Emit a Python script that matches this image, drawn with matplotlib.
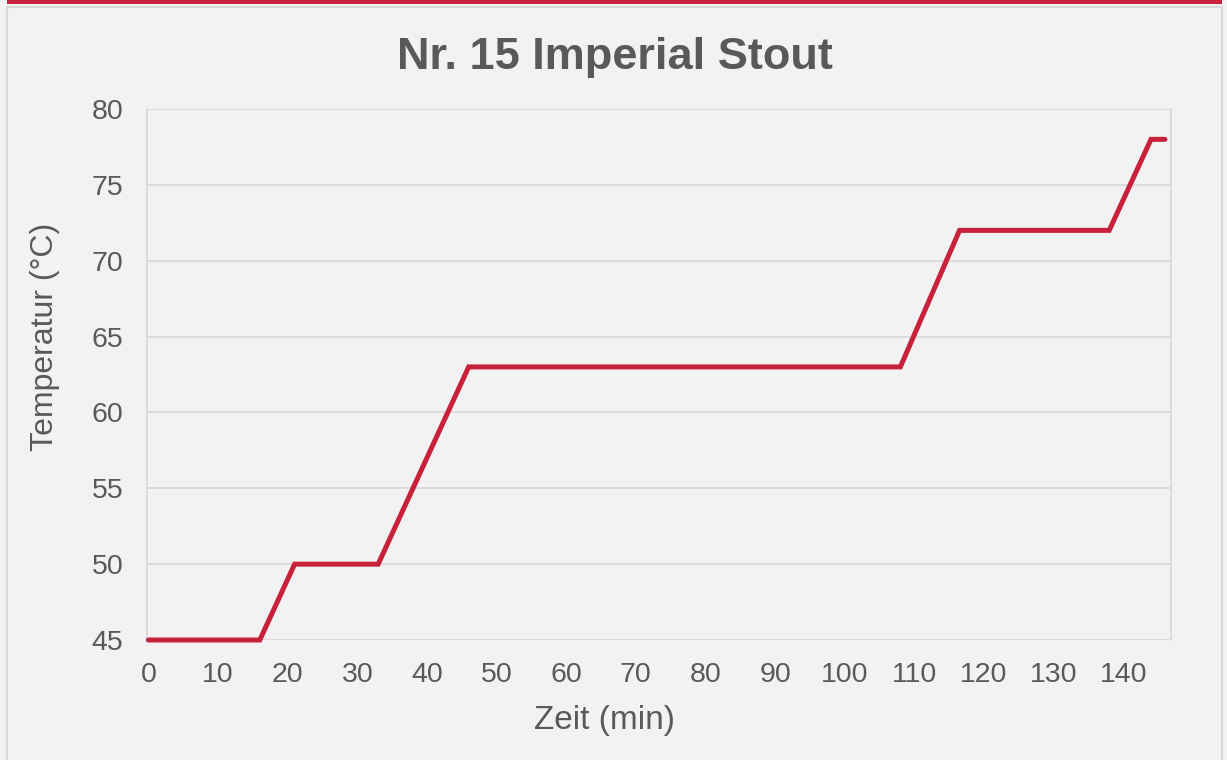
import matplotlib
matplotlib.use("Agg")
import matplotlib.pyplot as plt
from matplotlib.patches import Rectangle

plt.rcParams['font.family'] = ['Liberation Sans', 'DejaVu Sans']

# Mash schedule (time in min, temperature in degC)
zeit = [0, 16, 21, 33, 46, 108, 116.5, 138, 144, 146]
temperatur = [45, 45, 50, 50, 63, 63, 72, 72, 78, 78]
x_ticks = list(range(0, 141, 10))
y_ticks = list(range(45, 81, 5))

RED = '#c8213c'
GRAY_TXT = '#595959'
GRID = '#d9d9d9'
BG = '#f2f2f2'

fig = plt.figure(figsize=(12.27, 7.6), dpi=100)
fig.patch.set_facecolor(BG)

# Outer frame + red band at the top
fig.patches.append(Rectangle((7 / 1227, -0.01), 1215 / 1227, 1 - 7 / 760 + 0.01,
                             transform=fig.transFigure, fill=False,
                             edgecolor=GRID, linewidth=1.5, zorder=0))
fig.patches.append(Rectangle((7 / 1227, 1 - 4 / 760), 1215 / 1227, 4 / 760,
                             transform=fig.transFigure, facecolor=RED,
                             edgecolor='none', zorder=1))

ax = fig.add_axes([147 / 1227, 1 - 640 / 760, (1170.5 - 147) / 1227, (640 - 109) / 760])
ax.set_facecolor(BG)

ax.plot(zeit, temperatur, color=RED, linewidth=3.6, solid_joinstyle='miter',
        solid_capstyle='round', zorder=3, clip_on=False)

ax.set_xlim(-0.2, 146.8)
ax.set_ylim(45, 80)
ax.set_xticks(x_ticks)
ax.set_yticks(y_ticks)
ax.grid(axis='y', color=GRID, linewidth=1.3)
ax.set_axisbelow(True)

for side in ['top', 'bottom']:
    ax.spines[side].set_visible(False)
for side in ['left', 'right']:
    ax.spines[side].set_color(GRID)
    ax.spines[side].set_linewidth(1.3)

ax.tick_params(axis='both', length=0, labelsize=20.5, labelcolor=GRAY_TXT)
ax.tick_params(axis='y', pad=17)
ax.tick_params(axis='x', pad=15.5)

ax.set_xlabel('Zeit (min)', fontsize=24, color=GRAY_TXT)
ax.set_ylabel('Temperatur (°C)', fontsize=23, color=GRAY_TXT)
# label centres taken from the reference layout (pixels)
ax.xaxis.set_label_coords((604 - 147) / (1170.5 - 147), -(720 - 640) / 531, transform=ax.transAxes)
ax.xaxis.label.set_va('center')
ax.yaxis.set_label_coords(-(147 - 45) / (1170.5 - 147), (640 - 337) / 531, transform=ax.transAxes)
ax.yaxis.label.set_va('center')

fig.text(0.501, 1 - 57 / 760, 'Nr. 15 Imperial Stout', ha='center', va='center',
         fontsize=32.5, fontweight='bold', color=GRAY_TXT)

plt.savefig('out.png', dpi=100, facecolor=BG)
plt.close()
